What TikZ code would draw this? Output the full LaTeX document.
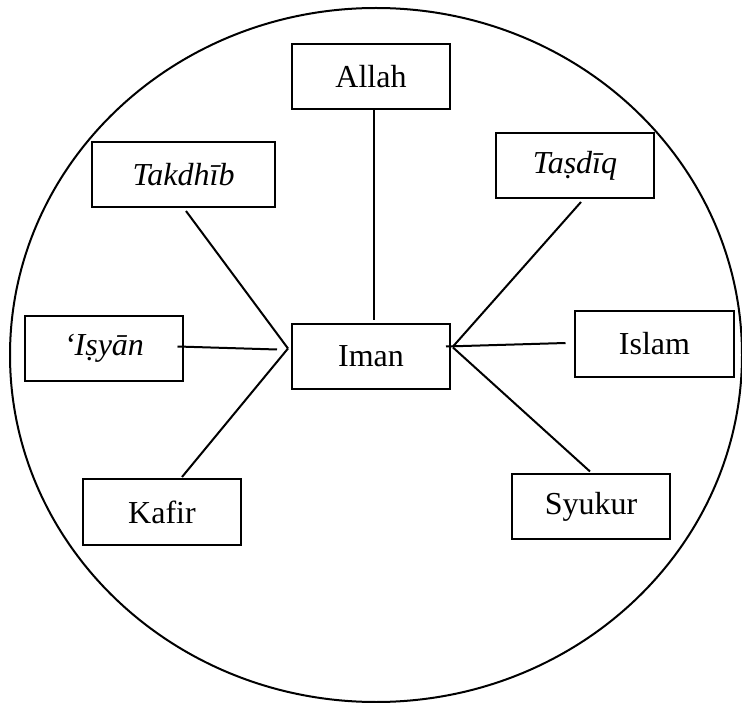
\documentclass[tikz,border=0pt]{standalone}
\usepackage{fontspec}
\setmainfont{Liberation Serif}
\usetikzlibrary{calc}
\tikzset{
  box/.style={draw, line width=2pt, minimum width=158pt, minimum height=65pt, inner sep=0pt, font=\fontsize{32}{38}\selectfont},
  link/.style={line width=2pt},
}
\begin{document}
\begin{tikzpicture}[x=1pt,y=-1pt]
\useasboundingbox (0,0) rectangle (742,703);
\draw[line width=2pt] (376,355) ellipse [x radius=366, y radius=347];
\node[box] (allah) at (371,76.3) {Allah};
\node[box, minimum width=183pt] (takdhib) at (183.5,174.5) {\itshape Takdhīb};
\node[box] (tasdiq) at (575,165.5) {\itshape Taṣdīq};
\node[box] (isyan) at (104,348.5) {\itshape ‘Iṣyān};
\node[box] (iman) at (371,356.5) {Iman};
\node[box, minimum width=159pt, minimum height=66pt] (islam) at (654.5,344) {Islam};
\node[box, minimum height=66pt] (kafir) at (162,512) {Kafir};
\node[box] (syukur) at (591,506.5) {Syukur};
\draw[link] ($(allah.south)+(3,0)$) -- ($(iman.north)+(3,-3)$);
\draw[link] ($(takdhib.south)+(2.5,3)$) -- ($(iman.west)+(-3,-8)$);
\draw[link] ($(kafir.north)+(20,-1)$) -- ($(iman.west)+(-3,-8)$);
\draw[link] ($(isyan.east)+(-6.5,-2)$) -- ($(iman.west)+(-14,-7)$);
\draw[link] ($(tasdiq.south)+(6,3)$) -- ($(iman.east)+(2,-10)$);
\draw[link] ($(islam.west)+(-8.5,-1)$) -- ($(iman.east)+(-5,-10)$);
\draw[link] ($(syukur.north)+(-1,-1.5)$) -- ($(iman.east)+(2,-9)$);
\end{tikzpicture}
\end{document}
